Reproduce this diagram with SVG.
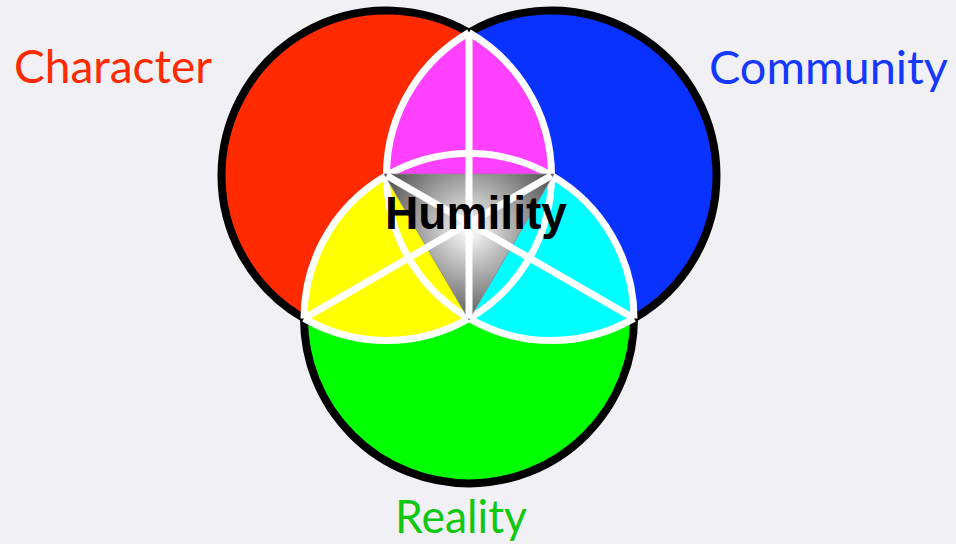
<svg xmlns="http://www.w3.org/2000/svg" width="956" height="544" viewBox="0 0 956 544">
  <defs>
    <radialGradient id="gray" gradientUnits="userSpaceOnUse" cx="470" cy="230" r="100">
      <stop offset="0" stop-color="#ffffff"/>
      <stop offset="0.4" stop-color="#b4b4b4"/>
      <stop offset="1" stop-color="#4a4a4a"/>
    </radialGradient>
  </defs>
  <style>
    .white { fill: none; stroke: #ffffff; stroke-width: 7; }
    .black { fill: none; stroke: #000000; stroke-width: 8; }
    .label { font-family: "Lato", "Open Sans", "Noto Sans", sans-serif; font-size: 46px; }
  </style>
  <rect width="956" height="544" fill="#f1f1f5"/>

  <g id="node-character">
    <circle cx="386.5" cy="175.5" r="165" fill="#ff2a00"/>
  </g>
  <g id="node-community">
    <circle cx="551.5" cy="175.5" r="165" fill="#0a32ff"/>
  </g>
  <g id="node-reality">
    <circle cx="469" cy="318.39" r="165" fill="#00ff00"/>
  </g>

  <g id="overlaps">
    <path id="overlap-character-community" d="M 469 32.61 A 165 165 0 0 1 469 318.39 A 165 165 0 0 1 469 32.61 Z" fill="#ff40ff"/>
    <path id="overlap-character-reality" d="M 551.5 175.5 A 165 165 0 0 1 304 318.39 A 165 165 0 0 1 551.5 175.5 Z" fill="#ffff00"/>
    <path id="overlap-community-reality" d="M 634 318.39 A 165 165 0 0 1 386.5 175.5 A 165 165 0 0 1 634 318.39 Z" fill="#00ffff"/>
    <path d="M 386.5 175.5 A 165 165 0 0 1 551.5 175.5 Z" fill="#ff40ff"/>
    <path d="M 469 318.39 A 165 165 0 0 1 386.5 175.5 Z" fill="#ffff00"/>
    <path d="M 551.5 175.5 A 165 165 0 0 1 469 318.39 Z" fill="#00ffff"/>
  </g>

  <g id="outlines">
    <path class="black" d="M 304 318.39 A 165 165 0 0 1 221.5 175.5 A 165 165 0 0 1 469 32.61"/>
    <path class="black" d="M 469 32.61 A 165 165 0 0 1 716.5 175.5 A 165 165 0 0 1 634 318.39"/>
    <path class="black" d="M 634 318.39 A 165 165 0 0 1 469 483.39 A 165 165 0 0 1 304 318.39"/>
    <path class="white" d="M 469 32.61 A 165 165 0 0 1 469 318.39 A 165 165 0 0 1 304 318.39"/>
    <path class="white" d="M 634 318.39 A 165 165 0 0 1 469 318.39 A 165 165 0 0 1 469 32.61"/>
    <path class="white" d="M 304 318.39 A 165 165 0 0 1 551.5 175.5 A 165 165 0 0 1 634 318.39"/>
  </g>

  <g id="node-humility">
    <polygon points="384,174 554,174 469,320" fill="url(#gray)" stroke="#8a8a8a" stroke-width="0.8"/>
  </g>

  <g id="connectors">
    <line class="white" x1="469" y1="32.61" x2="469" y2="318.39"/>
    <line class="white" x1="304" y1="318.39" x2="551.5" y2="175.5"/>
    <line class="white" x1="634" y1="318.39" x2="386.5" y2="175.5"/>
  </g>

  <g id="labels">
    <text x="476" y="229" text-anchor="middle" font-family="Liberation Sans, Arial, sans-serif" font-weight="bold" font-size="46" fill="#000000" textLength="182" lengthAdjust="spacingAndGlyphs">Humility</text>
    <text class="label" x="14" y="83" fill="#ff2a00" textLength="198" lengthAdjust="spacingAndGlyphs">Character</text>
    <text class="label" x="709" y="84" fill="#1438ff" textLength="239" lengthAdjust="spacingAndGlyphs">Community</text>
    <text class="label" x="395" y="533" fill="#10c810" textLength="132" lengthAdjust="spacingAndGlyphs">Reality</text>
  </g>
</svg>
